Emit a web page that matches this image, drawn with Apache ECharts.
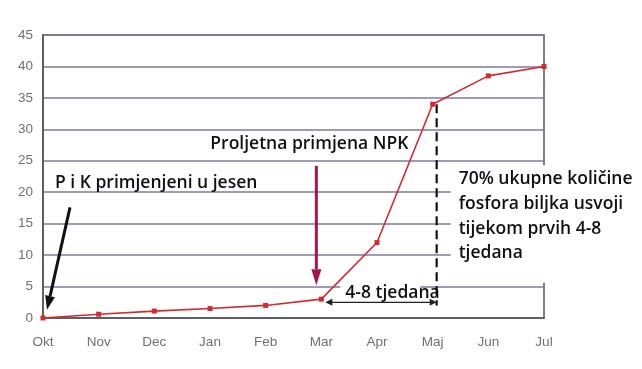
<!DOCTYPE html>
<html>
<head>
<meta charset="utf-8">
<script src="https://cdn.jsdelivr.net/npm/echarts@6/dist/echarts.min.js"></script>
<style>
html,body{margin:0;padding:0;background:#fff;}
#c{width:642px;height:369px;}
</style>
</head>
<body>
<div id="c"></div>
<script>
const months = ['Okt','Nov','Dec','Jan','Feb','Mar','Apr','Maj','Jun','Jul'];
const uptake = [0, 0.6, 1.1, 1.5, 2, 3, 12, 34, 38.5, 40];
const yTicks = [0, 5, 10, 15, 20, 25, 30, 35, 40, 45];
const labelSpring = 'Proljetna primjena NPK';
const labelAutumn = 'P i K primjenjeni u jesen';
const labelNote = ['70% ukupne količine', 'fosfora biljka usvoji', 'tijekom prvih 4-8', 'tjedana'];
const labelWeeks = '4-8 tjedana';

const chart = echarts.init(document.getElementById('c'), null, {renderer:'canvas'});
const axisFont = {color:'#707070', fontSize:13.5, fontFamily:'Liberation Sans, Arial, sans-serif'};
chart.setOption({
  animation:false,
  grid:{left:43, right:98, top:35, bottom:51, show:true, borderColor:'#555', borderWidth:1.5},
  xAxis:{type:'category', data:months, boundaryGap:false,
    axisLine:{lineStyle:{color:'#555', width:1.5}}, axisTick:{show:false},
    axisLabel:Object.assign({margin:17}, axisFont), splitLine:{show:false}},
  yAxis:{type:'value', min:yTicks[0], max:yTicks[yTicks.length-1], interval:5,
    axisLine:{show:true, lineStyle:{color:'#555', width:1.5}}, axisTick:{show:false},
    axisLabel:Object.assign({margin:10}, axisFont),
    splitLine:{lineStyle:{color:'#7a7aa3', width:1.5}}},
  series:[{type:'line', data:uptake, symbol:'rect', symbolSize:5,
    lineStyle:{color:'#d42a2f', width:1.6}, itemStyle:{color:'#d42a2f'}, z:5}]
});

function P(cat, v){ return chart.convertToPixel({gridIndex:0}, [cat, v]); }
function arrow(p1, p2, color, w, hl, hw){
  const dx=p2[0]-p1[0], dy=p2[1]-p1[1], L=Math.hypot(dx,dy), ux=dx/L, uy=dy/L;
  const bx=p2[0]-ux*hl, by=p2[1]-uy*hl;
  return [
    {type:'line', z:20, shape:{x1:p1[0],y1:p1[1],x2:bx,y2:by}, style:{stroke:color,lineWidth:w}},
    {type:'polygon', z:20, shape:{points:[[p2[0],p2[1]],[bx-uy*hw,by+ux*hw],[bx+uy*hw,by-ux*hw]]}, style:{fill:color}}
  ];
}
const okt=P('Okt',0), mar=P('Mar',0), maj=P('Maj',0), jul=P('Jul',0);
const yv=v=>P('Okt',v)[1];
const txtFont = {fontFamily:'Open Sans, sans-serif', fontWeight:600, fontSize:17.5, fill:'#111'};
const g = [];
// white boxes behind texts
g.push({type:'rect', z:10, shape:{x:maj[0]+18, y:yv(24.3), width:200, height:yv(5.6)-yv(24.3)}, style:{fill:'#fff'}});
g.push({type:'rect', z:10, shape:{x:mar[0]+19, y:yv(5.5), width:80, height:yv(2.9)-yv(5.5)}, style:{fill:'#fff'}});
// dashed line at Maj
g.push({type:'line', z:15, shape:{x1:maj[0]+4,y1:yv(34),x2:maj[0]+4,y2:yv(2)}, style:{stroke:'#111',lineWidth:2.2,lineDash:[9,5]}});
// texts
g.push({type:'text', z:21, x:mar[0]-111, y:yv(27.7), style:Object.assign({text:labelSpring, textVerticalAlign:'middle'}, txtFont)});
g.push({type:'text', z:21, x:okt[0]+12, y:yv(21.4), style:Object.assign({text:labelAutumn, textVerticalAlign:'middle'}, txtFont)});
labelNote.forEach((t,i)=>{
  g.push({type:'text', z:21, x:maj[0]+26, y:yv(22.1)+i*24.8, style:Object.assign({text:t, textVerticalAlign:'middle'}, txtFont)});
});
g.push({type:'text', z:21, x:mar[0]+24, y:yv(3.9), style:Object.assign({text:labelWeeks, textVerticalAlign:'middle'}, txtFont)});
// arrows
g.push(...arrow([mar[0]-5, yv(24.2)], [mar[0]-5, yv(5.2)], '#a3154c', 3, 16, 5));
g.push(...arrow([okt[0]+27, yv(17.6)], [okt[0]+4, yv(1.3)], '#111', 3, 14, 5));
// double arrow
const da1=[mar[0]+4, yv(2.5)], da2=[maj[0]+4, yv(2.5)];
g.push({type:'line', z:20, shape:{x1:da1[0]+6,y1:da1[1],x2:da2[0]-6,y2:da2[1]}, style:{stroke:'#222',lineWidth:1.3}});
g.push({type:'polygon', z:20, shape:{points:[[da1[0],da1[1]],[da1[0]+7,da1[1]-3.5],[da1[0]+7,da1[1]+3.5]]}, style:{fill:'#222'}});
g.push({type:'polygon', z:20, shape:{points:[[da2[0],da2[1]],[da2[0]-7,da2[1]-3.5],[da2[0]-7,da2[1]+3.5]]}, style:{fill:'#222'}});
chart.setOption({graphic:g});
</script>
</body>
</html>
